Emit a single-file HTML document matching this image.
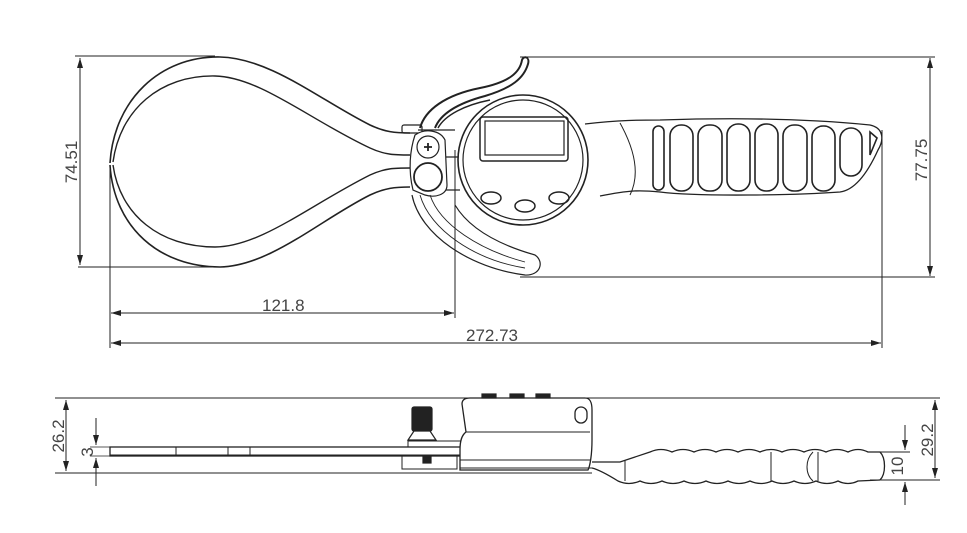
<!DOCTYPE html>
<html><head><meta charset="utf-8"><style>
html,body{margin:0;padding:0;background:#fff}
svg{display:block}
text{font-family:"Liberation Sans",sans-serif;font-size:17px;fill:#444}
</style></head><body>
<svg width="967" height="533" viewBox="0 0 967 533" xmlns="http://www.w3.org/2000/svg" fill="none" stroke="#222" stroke-width="1.2">
<defs>
<marker id="a" viewBox="0 0 10 6" refX="10" refY="3" markerWidth="10" markerHeight="6" orient="auto-start-reverse"><path d="M0,0 L10,3 L0,6 z" fill="#222" stroke="none"/></marker>
</defs>
<!-- ===== TOP VIEW ===== -->
<path d="M110,163 C114,100 160,56 220,57 C270,58 320,100 370,125 C385,132 395,133 410,133" stroke-width="1.6"/>
<path d="M113,162 C120,110 160,75 215,76 C260,77 310,120 370,148 C385,155 395,155 410,155" stroke-width="1.4"/>
<path d="M110,165 C114,228 160,267 220,267 C270,266 320,220 370,195 C385,188 395,187 410,187" stroke-width="1.6"/>
<path d="M113,165 C120,215 160,247 215,247 C260,247 310,205 370,175 C385,168 395,168 410,168" stroke-width="1.4"/>
<!-- cable -->
<path d="M420,128 C425,110 445,95 480,88 C510,82 520,72 522,60 C524,55 530,57 528,64 C524,78 512,88 485,96 C455,104 440,115 435,128" stroke-width="2"/>
<path d="M438,128 C445,115 465,105 490,100" stroke-width="1.5"/>
<!-- pivot plate -->
<rect x="402" y="125" width="20" height="8" rx="2"/>
<path d="M418,130 L455,130 M418,157 L460,157 M418,190 L460,190"/>
<path d="M415,135 C425,128 440,130 445,140 L447,185 C447,195 435,198 425,195 L413,190 C408,170 410,150 415,135 z" fill="#fff"/>
<circle cx="428" cy="147" r="11"/><path d="M424,147 h8 M428,143 v8" stroke-width="1.8"/>
<circle cx="428" cy="177" r="14" stroke-width="1.8"/>
<!-- arc arm -->
<path d="M412,195 C420,235 470,268 525,275 C540,276 545,262 535,255 C500,245 470,230 455,205"/>
<path d="M420,195 C430,230 475,260 525,268" stroke-width="0.9"/>
<path d="M430,195 C440,225 480,250 525,262" stroke-width="0.9"/>
<!-- handle -->
<path d="M585,124 C620,120 640,120 660,120 C720,118 800,118 870,125 C884,128 884,140 878,150 C868,172 855,190 840,192 C800,195 700,197 660,192 C640,190 630,190 600,196" fill="#fff" stroke-width="1.3"/>
<path d="M620,123 C635,150 640,175 630,195" stroke-width="1"/>
<g stroke-width="1.6">
<rect x="653" y="126" width="11" height="64" rx="5.5"/>
<rect x="670" y="125" width="23" height="66" rx="11"/>
<rect x="698" y="125" width="24" height="66" rx="11"/>
<rect x="727" y="124" width="23" height="67" rx="11"/>
<rect x="755" y="124" width="23" height="67" rx="11"/>
<rect x="783" y="125" width="24" height="66" rx="11"/>
<rect x="812" y="126" width="23" height="65" rx="11"/>
<rect x="840" y="128" width="22" height="48" rx="11"/>
<path d="M870,132 L877,138 L870,155 z"/>
</g>
<!-- dial -->
<circle cx="523" cy="160" r="65" fill="#fff" stroke-width="1.6"/>
<circle cx="523" cy="160" r="60" stroke-width="1.2"/>
<rect x="480" y="117" width="88" height="44" rx="3" stroke-width="1.5"/>
<rect x="485" y="121" width="79" height="34"/>
<ellipse cx="491" cy="198" rx="10" ry="6" stroke-width="1.5"/>
<ellipse cx="525" cy="206" rx="10" ry="6" stroke-width="1.5"/>
<ellipse cx="559" cy="198" rx="10" ry="6" stroke-width="1.5"/>
<!-- top dimensions -->
<path d="M75,56 L215,56 M78,267 L215,267" stroke-width="1"/>
<path d="M80,58 L80,265" marker-start="url(#a)" marker-end="url(#a)" stroke-width="1"/>
<path d="M110,165 L110,348 M455,150 L455,318 M882,130 L882,348" stroke-width="1"/>
<path d="M111,313 L454,313" marker-start="url(#a)" marker-end="url(#a)" stroke-width="1"/>
<path d="M111,343 L881,343" marker-start="url(#a)" marker-end="url(#a)" stroke-width="1"/>
<path d="M520,57 L935,57 M520,277 L935,277" stroke-width="1"/>
<path d="M930,58 L930,276" marker-start="url(#a)" marker-end="url(#a)" stroke-width="1"/>
<text x="262" y="311" stroke="none">121.8</text>
<text x="466" y="341" stroke="none">272.73</text>
<text transform="translate(77,162) rotate(-90)" text-anchor="middle" stroke="none">74.51</text>
<text transform="translate(927,160) rotate(-90)" text-anchor="middle" stroke="none">77.75</text>
<!-- ===== SIDE VIEW ===== -->
<path d="M55,398 L940,398 M55,473 L592,473" stroke-width="1"/>
<path d="M66,400 L66,471" marker-start="url(#a)" marker-end="url(#a)" stroke-width="1"/>
<path d="M96,418 L96,445" marker-end="url(#a)" stroke-width="1"/>
<path d="M96,486 L96,458" marker-end="url(#a)" stroke-width="1"/>
<path d="M90,447 L110,447 M90,456 L110,456" stroke-width="0.8"/>
<text transform="translate(64,436) rotate(-90)" text-anchor="middle" stroke="none">26.2</text>
<text transform="translate(93,452) rotate(-90)" text-anchor="middle" stroke="none" font-size="14">3</text>
<rect x="110" y="447" width="360" height="9" stroke-width="1.3"/>
<path d="M110,455 L470,455 M176,447 L176,456 M228,447 L228,456 M250,447 L250,456" stroke-width="1"/>
<rect x="402" y="455" width="55" height="14" stroke-width="1"/>
<rect x="423" y="457" width="8" height="6" fill="#222"/>
<rect x="412" y="407" width="20" height="24" rx="2" fill="#222"/>
<path d="M414,431 L430,431 L436,440 L408,440 z" fill="#fff"/>
<rect x="408" y="441" width="132" height="6" stroke-width="1"/>
<path d="M462,404 C462,400 465,398 470,398 L585,398 C590,398 592,402 592,410 L592,440 C592,455 590,466 588,470 L460,470 L460,450 C460,440 462,435 466,432 z" fill="#fff" stroke-width="1.3"/>
<path d="M466,432 L590,432 M460,460 L590,460 M460,468 L592,468" stroke-width="1"/>
<rect x="482" y="394" width="14" height="4" fill="#222"/><rect x="510" y="394" width="14" height="4" fill="#222"/><rect x="536" y="394" width="14" height="4" fill="#222"/>
<rect x="575" y="407" width="12" height="16" rx="6" stroke-width="1.3"/>
<path d="M592,462 L620,462 L650,452 q11,-5 22,0 q11,-5 22,0 q11,-5 22,0 q11,-5 22,0 q11,-5 22,0 q11,-5 22,0 q11,-5 22,0 q11,-5 22,0 q11,-5 22,0 q10,-5 20,0 L880,452 C886,458 886,474 880,480" stroke-width="1.3"/>
<path d="M592,468 C600,470 610,476 618,481 q11,5 22,0 q11,5 22,0 q11,5 22,0 q11,5 22,0 q11,5 22,0 q11,5 22,0 q11,5 22,0 q11,5 22,0 q11,5 22,0 q11,5 22,0 q10,5 20,0 L880,480" stroke-width="1.3"/>
<path d="M625,460 L625,481 M771,452 L771,481 M813,452 C805,460 805,474 813,481 M818,452 L818,481" stroke-width="1"/>
<path d="M870,452 L910,452 M870,480 L940,480" stroke-width="0.9"/>
<path d="M935,400 L935,478" marker-start="url(#a)" marker-end="url(#a)" stroke-width="1"/>
<path d="M905,425 L905,450" marker-end="url(#a)" stroke-width="1"/>
<path d="M905,505 L905,482" marker-end="url(#a)" stroke-width="1"/>
<text transform="translate(933,440) rotate(-90)" text-anchor="middle" stroke="none">29.2</text>
<text transform="translate(903,466) rotate(-90)" text-anchor="middle" stroke="none" font-size="15">10</text>
</svg>
</body></html>
